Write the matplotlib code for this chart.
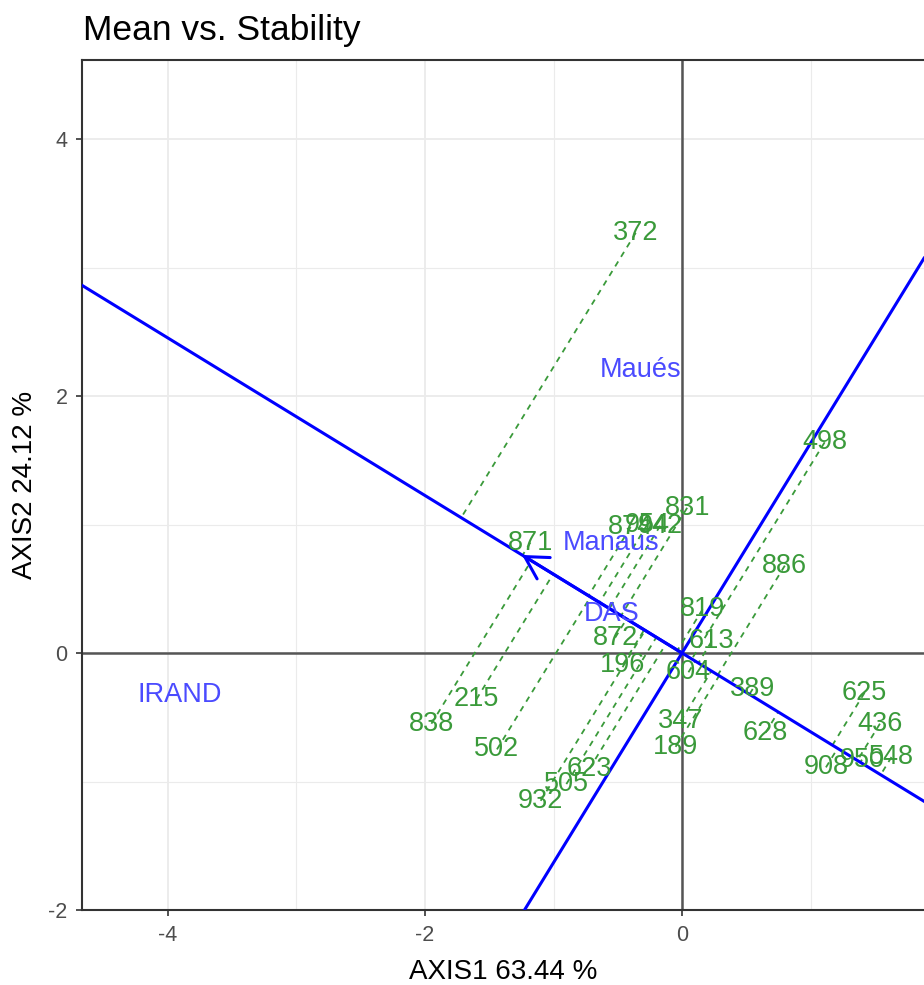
import numpy as np
import matplotlib.pyplot as plt

plt.rcParams['font.family'] = ['Liberation Sans', 'DejaVu Sans']
plt.rcParams['axes.unicode_minus'] = False

# genotype scores (AXIS1, AXIS2)
gen_names = ["372", "498", "831", "874", "954", "942", "871", "886", "819", "613",
             "872", "196", "604", "389", "625", "436", "628", "347", "189", "908",
             "950", "548", "215", "838", "502", "623", "505", "932"]
gen_x = [-0.36, 1.11, 0.04, -0.40, -0.27, -0.17, -1.18, 0.80, 0.16, 0.23,
         -0.52, -0.46, 0.05, 0.55, 1.42, 1.54, 0.65, -0.01, -0.05, 1.12,
         1.40, 1.63, -1.60, -1.95, -1.44, -0.72, -0.90, -1.10]
gen_y = [3.27, 1.64, 1.13, 0.98, 1.00, 0.99, 0.86, 0.68, 0.34, 0.09,
         0.12, -0.09, -0.15, -0.28, -0.31, -0.55, -0.62, -0.53, -0.73, -0.89,
         -0.83, -0.81, -0.36, -0.55, -0.75, -0.90, -1.02, -1.15]

# environment scores
env_names = ["IRAND", "Maués", "Manaus", "DAS"]
env_x = [-3.91, -0.32, -0.55, -0.55]
env_y = [-0.33, 2.20, 0.86, 0.30]

# average environment axis point
aea = np.array([-1.245, 0.763])

gen_col = "#3A9A3A"
env_col = "#4B4BFF"

fig = plt.figure(figsize=(9.24, 9.85), dpi=100)
ax = fig.add_axes([82 / 924, 75 / 985, 842 / 924, 850 / 985])
ax.set_xlim(-4.669, 1.883)
ax.set_ylim(-2.0, 4.615)
ax.set_axisbelow(True)

ax.set_xticks([-4, -2, 0])
ax.set_yticks([-2, 0, 2, 4])
ax.set_xticks([-3, -1, 1], minor=True)
ax.set_yticks([-1, 1, 3], minor=True)
ax.grid(which="major", color="#EBEBEB", lw=1.3)
ax.grid(which="minor", color="#EBEBEB", lw=0.8)
ax.tick_params(which="minor", length=0)
ax.tick_params(which="major", length=4.5, width=1.2, color="#333333",
               labelsize=15.5, labelcolor="#4D4D4D", pad=6)
for side in ["left", "top", "bottom"]:
    ax.spines[side].set_color("#333333")
    ax.spines[side].set_linewidth(1.5)
ax.spines["right"].set_visible(False)

ax.axhline(0, color="#555555", lw=1.8, zorder=1)
ax.axvline(0, color="#555555", lw=1.8, zorder=1)

# ATC abscissa and ordinate
ax.axline((0, 0), tuple(aea), color="blue", lw=2.2, zorder=3)
ax.axline((0, 0), (aea[1], -aea[0]), color="blue", lw=2.2, zorder=3)
ax.annotate("", xy=tuple(aea), xytext=(0, 0),
            arrowprops=dict(arrowstyle="->,head_length=0.8,head_width=0.45",
                            color="blue", lw=2.2, mutation_scale=20,
                            shrinkA=0, shrinkB=0), zorder=3)

# projections of genotypes onto the ATC abscissa
u = aea / np.linalg.norm(aea)
for gx, gy in zip(gen_x, gen_y):
    t = gx * u[0] + gy * u[1]
    ax.plot([gx, t * u[0]], [gy, t * u[1]], color=gen_col, lw=1.3,
            dashes=(3.2, 3), zorder=2)

for name, gx, gy in zip(gen_names, gen_x, gen_y):
    ax.text(gx, gy, name, color=gen_col, fontsize=19.5, ha="center",
            va="center", zorder=4)
for name, ex, ey in zip(env_names, env_x, env_y):
    ax.text(ex, ey, name, color=env_col, fontsize=19.5, ha="center",
            va="center", zorder=4)

ax.set_xlabel("AXIS1 63.44 %", fontsize=20, labelpad=10)
ax.set_ylabel("AXIS2 24.12 %", fontsize=20, labelpad=7)
fig.text(83 / 924, 1 - 40 / 985, "Mean vs. Stability", fontsize=25.5,
         ha="left", va="baseline")

fig.savefig("out.png", dpi=100)
